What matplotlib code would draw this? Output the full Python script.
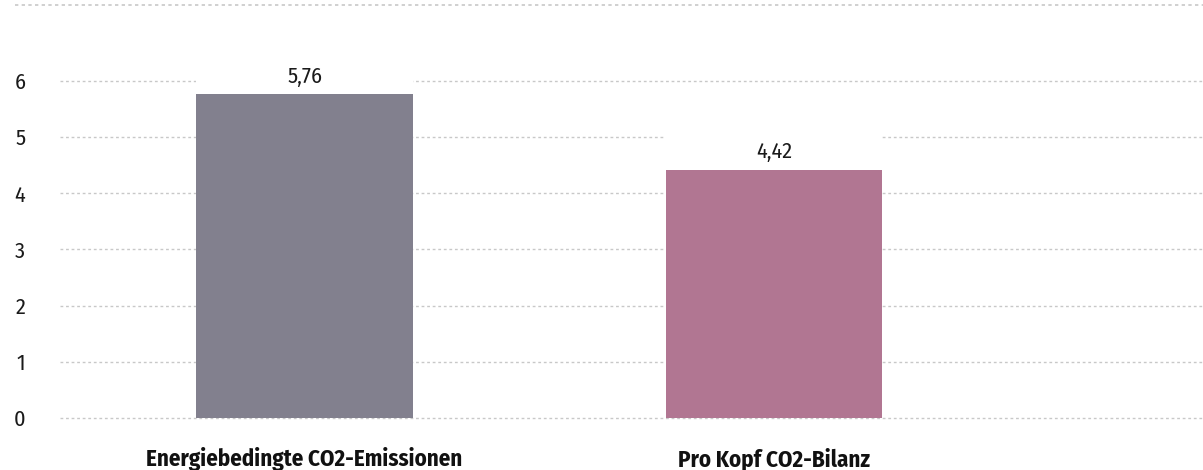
import matplotlib
matplotlib.use("Agg")
import matplotlib.pyplot as plt
from matplotlib.lines import Line2D

categories = ["Energiebedingte CO2-Emissionen", "Pro Kopf CO2-Bilanz"]
values = [5.76, 4.42]
value_labels = ["5,76", "4,42"]
colors = ["#82808e", "#b17692"]
yticks = [0, 1, 2, 3, 4, 5, 6]

plt.rcParams["font.family"] = ["Fira Sans Condensed", "DejaVu Sans"]

fig = plt.figure(figsize=(12.03, 4.70), dpi=100)
ax = fig.add_axes([60 / 1203, 52 / 470, 1 - 60 / 1203, (418 - 20) / 470])

x = list(range(len(categories)))
ax.bar(x, values, width=0.462, color=colors, zorder=3)
# white gap behind the value labels so the grid does not run through them
ax.bar(x, [0.75] * len(x), bottom=values, width=0.462, color="white", zorder=2)
for xi, v, lab in zip(x, values, value_labels):
    ax.annotate(lab, (xi, v), xytext=(0, 5), textcoords="offset points",
                ha="center", va="bottom", fontsize=16, color="#1a1a1a", zorder=4)

ax.set_xlim(-0.521, 1.914)
ax.set_ylim(0, 398 / 56.2)
ax.set_yticks(yticks)
ax.set_yticklabels([str(t) for t in yticks], fontsize=16, color="#1a1a1a")
ax.set_xticks(x)
ax.set_xticklabels(categories, fontsize=16.5, fontweight="bold", color="#111111")
ax.tick_params(axis="y", length=0, pad=25)
ax.tick_params(axis="x", length=0, pad=21)
ax.grid(axis="y", color="#c8c8c8", linestyle=(0, (2, 2)), linewidth=1, zorder=0)
for gl in ax.get_ygridlines():
    gl.set_clip_on(False)
for s in ax.spines.values():
    s.set_visible(False)

fig.add_artist(Line2D([15 / 1203, 1], [1 - 5 / 470, 1 - 5 / 470], color="#c8c8c8",
                      linestyle=(0, (2, 2)), linewidth=1.2))

fig.savefig("out.png", dpi=100)
